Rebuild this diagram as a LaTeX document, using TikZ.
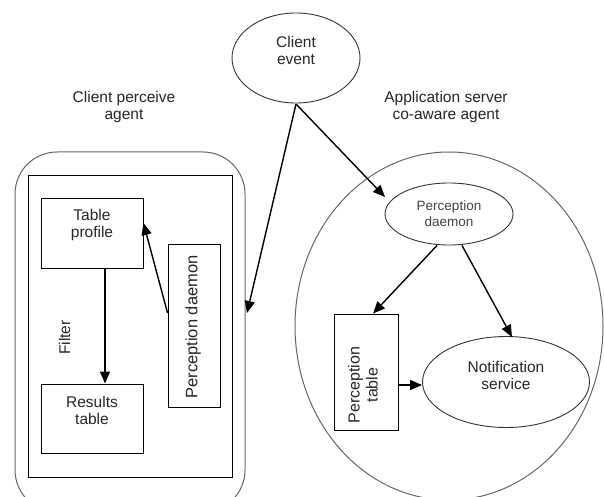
\documentclass[tikz,border=0pt]{standalone}
\usepackage{fontspec}
\setmainfont{Liberation Sans}
\usetikzlibrary{shapes.geometric,arrows.meta,calc}
\begin{document}
\begin{tikzpicture}[x=1pt,y=-1pt,
  every node/.style={font=\fontsize{15.5}{17}\selectfont, text=black!85, align=center},
  boxnode/.style={draw=black, line width=0.9pt, rectangle, inner sep=0pt},
  ellnode/.style={draw=black!80, line width=0.9pt, ellipse, inner sep=0pt},
  outer/.style={draw=black!60, line width=1pt},
  arr/.style={draw=black, line width=1.4pt, -{Triangle[length=12pt,width=10pt]}}]
\useasboundingbox (0,0) rectangle (604,497);
\clip (0,0) rectangle (604,497);
\fill[white] (0,0) rectangle (604,497);
% labels
\node (lcpa) at (124,107) {Client perceive\\agent};
\node (lasa) at (446,107) {Application server\\co-aware agent};
% client event
\node[ellnode, minimum width=128pt, minimum height=90pt] (ce) at (296,58) {};
\node (cet) at (296,50) {Client\\event};
% left container
\node[outer, rectangle, rounded corners=42pt, minimum width=230pt, minimum height=360pt, inner sep=0pt] (cpa) at (130,332) {};
\node[boxnode, minimum width=204pt, minimum height=302pt] (inner) at (130,326) {};
\node[boxnode, minimum width=102pt, minimum height=70pt] (tp) at (92,233) {};
\node (tpt) at (92,225) {Table\\profile};
\node[boxnode, minimum width=102pt, minimum height=69pt] (rt) at (92,418.5) {};
\node (rtt) at (92,410) {Results\\table};
\node[boxnode, minimum width=52pt, minimum height=163pt] (pdl) at (194,325.5) {};
\node[rotate=90, font=\fontsize{16.5}{18}\selectfont] (pdlt) at (193,327) {Perception daemon};
\node[rotate=90] (filt) at (64.5,337.5) {Filter};
% right container
\node[outer, ellipse, minimum width=308pt, minimum height=348pt, inner sep=0pt] (asa) at (449,326) {};
\node[ellnode, minimum width=128pt, minimum height=62pt, font=\fontsize{13.5}{16}\selectfont, text=black!75] (pd) at (449,214) {Perception\\daemon};
\node[boxnode, minimum width=64pt, minimum height=116pt] (pt) at (366,372) {};
\node[rotate=90, font=\fontsize{16}{18}\selectfont] (ptt) at (363,385) {Perception\\table};
\node[ellnode, minimum width=167pt, minimum height=91pt] (ns) at (506,382) {};
\node (nst) at (506,375) {Notification\\service};
% connectors
\coordinate (cein) at (296,104);
\coordinate (cpain) at (247,313);
\coordinate (pdin) at (385,197);
\draw[arr] (cein) -- (cpain);
\draw[arr] (cein) -- (pdin);
\draw[arr] (tp.south -| 105,0) -- (rt.north -| 105,0);
\draw[arr] (pdl.west |- 0,313) -- (tp.east |- 0,223);
\draw[arr] ($(pd.south)+(-12,0)$) -- (pt.north -| 373,0);
\draw[arr] ($(pd.south)+(13,0)$) -- (512,337) coordinate (nsin);
\draw[arr] (pt.east |- 0,385) -- (ns.west |- 0,385);
\end{tikzpicture}
\end{document}
